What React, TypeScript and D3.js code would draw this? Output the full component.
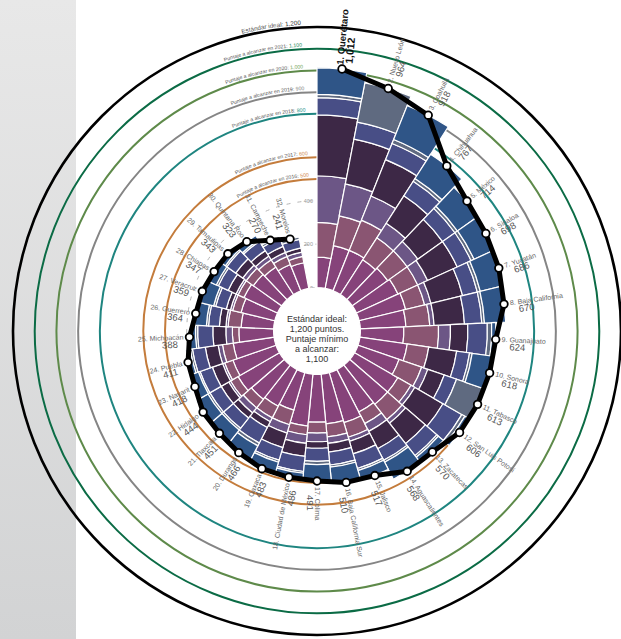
import * as d3 from "d3";
import { useEffect, useRef } from "react";

// states in ranking order
const states = [
  "Querétaro", "Nuevo León", "Coahuila", "Chihuahua", "México", "Sinaloa", "Yucatán",
  "Baja California", "Guanajuato", "Sonora", "Tabasco", "San Luis Potosí", "Zacatecas",
  "Aguascalientes", "Jalisco", "Baja California Sur", "Colima", "Ciudad de México",
  "Oaxaca", "Durango", "Tlaxcala", "Hidalgo", "Nayarit", "Puebla", "Michoacán",
  "Guerrero", "Veracruz", "Chiapas", "Tamaulipas", "Quintana Roo", "Campeche", "Morelos",
];
const totals = [
  1012, 964, 918, 767, 714, 698, 686, 670, 624, 618, 613, 606, 570, 568, 517, 510,
  491, 486, 483, 466, 451, 444, 418, 411, 388, 364, 359, 347, 343, 323, 270, 241,
];

// stacked components (inner -> outer)
const compA = [140, 200, 200, 190, 200, 210, 220, 210, 200, 220, 200, 230, 230, 220, 240, 230, 220, 240, 180, 190, 200, 220, 210, 190, 160, 150, 160, 170, 160, 150, 130, 120];
const compB = [160, 140, 150, 120, 110, 100, 90, 110, 160, 100, 110, 70, 90, 60, 70, 60, 50, 40, 70, 60, 50, 40, 40, 50, 30, 60, 40, 30, 40, 40, 40, 30];
const compC = [215, 150, 120, 80, 60, 50, 30, 20, 55, 0, 30, 20, 20, 40, 20, 30, 40, 40, 40, 20, 30, 10, 10, 20, 30, 10, 10, 10, 20, 20, 20, 20];
const compD = [280, 210, 180, 150, 140, 150, 150, 140, 80, 130, 80, 150, 120, 90, 60, 40, 30, 60, 70, 30, 30, 40, 50, 60, 60, 30, 20, 40, 40, 30, 30, 20];
const compE = [80, 80, 80, 80, 70, 70, 70, 80, 90, 60, 60, 100, 70, 60, 70, 60, 60, 70, 60, 80, 60, 60, 60, 60, 70, 50, 50, 50, 50, 50, 40, 40];
const compF = [15, 184, 20, 15, 14, 15, 14, 12, 20, 12, 133, 16, 10, 10, 10, 10, 15, 8, 10, 15, 10, 10, 8, 10, 10, 10, 10, 10, 8, 8, 10, 11];
const compG = [122, 0, 168, 132, 120, 103, 112, 98, 19, 96, 0, 20, 30, 88, 47, 80, 76, 28, 53, 71, 71, 64, 40, 21, 28, 54, 69, 37, 25, 25, 0, 0];

const compKeys = ["A", "B", "C", "D", "E", "F", "G"];
const compColors = ["#86437a", "#8a5572", "#6c5686", "#3d2846", "#484e86", "#5f6a80", "#2f5587"];

const rings = [
  { v: 1200, label: "Estándar ideal: ", val: "1,200", color: "#000", valColor: "#333", w: 2.6, fs: 6.3 },
  { v: 1100, label: "Puntaje a alcanzar en 2021: ", val: "1,100", color: "#0b6b45", valColor: "#1d8a5a", w: 2, fs: 5.2 },
  { v: 1000, label: "Puntaje a alcanzar en 2020: ", val: "1,000", color: "#5e8a4a", valColor: "#78a660", w: 2, fs: 5.2 },
  { v: 900, label: "Puntaje a alcanzar en 2019: ", val: "900", color: "#858585", valColor: "#888", w: 2, fs: 5.2 },
  { v: 800, label: "Puntaje a alcanzar en 2018: ", val: "800", color: "#1f8580", valColor: "#2a938d", w: 2, fs: 5.2 },
  { v: 600, label: "Puntaje a alcanzar en 2017: ", val: "600", color: "#c47c3c", valColor: "#d08a4c", w: 2, fs: 5.2 },
  { v: 500, label: "Puntaje a alcanzar en 2016: ", val: "500", color: "#c47c3c", valColor: "#d08a4c", w: 2, fs: 5.2 },
];
const gridTicks = [-100, 0, 200, 400];
const centerLines = ["Estándar ideal:", "1,200 puntos.", "Puntaje mínimo", "a alcanzar:", "1,100"];

export default function App() {
  const ref = useRef<SVGSVGElement>(null);

  useEffect(() => {
    const W = 621, H = 639;
    const cx = 317, cy = 331;
    const svg = d3.select(ref.current);
    svg.selectAll("*").remove();

    const r = d3.scaleLinear().domain([-200, 1200]).range([0, 304]);
    const band = (Math.PI * 2) / 33;
    const mid = (i: number) => i * band + band / 2;

    const defs = svg.append("defs");
    const grad = defs.append("linearGradient").attr("id", "panel").attr("x1", 0).attr("x2", 0).attr("y1", 0).attr("y2", 1);
    grad.append("stop").attr("offset", "0%").attr("stop-color", "#e8e8e8");
    grad.append("stop").attr("offset", "100%").attr("stop-color", "#d2d3d4");

    svg.append("rect").attr("width", W).attr("height", H).attr("fill", "#fff");
    svg.append("rect").attr("width", 76).attr("height", H).attr("fill", "url(#panel)");

    const g = svg.append("g").attr("transform", `translate(${cx},${cy})`);

    // grid (dashed)
    g.selectAll("circle.grid")
      .data(gridTicks)
      .join("circle")
      .attr("r", (d) => r(d))
      .attr("fill", "none")
      .attr("stroke", "#b5b5b5")
      .attr("stroke-width", 1)
      .attr("stroke-dasharray", "4,7");
    g.selectAll("text.grid")
      .data(gridTicks)
      .join("text")
      .attr("x", -4)
      .attr("y", (d) => -r(d) + 2)
      .attr("text-anchor", "end")
      .attr("font-size", 5.5)
      .attr("fill", "#999")
      .attr("font-family", "Liberation Sans, Arial, sans-serif")
      .text((d) => d);

    // target rings
    g.selectAll("circle.ring")
      .data(rings)
      .join("circle")
      .attr("r", (d) => r(d.v))
      .attr("fill", "none")
      .attr("stroke", (d) => d.color)
      .attr("stroke-width", (d) => d.w);

    rings.forEach((d, i) => {
      const R = r(d.v) + 2.5;
      const a1 = (-3 * Math.PI) / 180;
      defs.append("path")
        .attr("id", `ringpath${i}`)
        .attr("d", `M ${cx - R} ${cy} A ${R} ${R} 0 0 1 ${cx + R * Math.sin(a1)} ${cy - R * Math.cos(a1)}`);
      const t = svg.append("text")
        .attr("font-family", "Liberation Sans, Arial, sans-serif")
        .attr("font-size", d.fs)
        .attr("fill", "#555")
        .append("textPath")
        .attr("href", `#ringpath${i}`)
        .attr("startOffset", "100%")
        .attr("text-anchor", "end");
      t.append("tspan").text(d.label);
      t.append("tspan").attr("fill", d.valColor).text(d.val);
    });

    // stacked bars
    const table = states.map((s, i) => ({
      state: s,
      A: compA[i], B: compB[i], C: compC[i], D: compD[i], E: compE[i], F: compF[i], G: compG[i],
    }));
    const series = d3.stack<any>().keys(compKeys)(table);
    const arc = d3.arc<any>();

    g.append("circle").attr("r", r(0)).attr("fill", "#fff");

    g.append("g")
      .selectAll("g")
      .data(series)
      .join("g")
      .attr("fill", (_d, k) => compColors[k])
      .selectAll("path")
      .data((d) => d.map((p, i) => ({ p, i })).filter((o) => o.p[1] > o.p[0]))
      .join("path")
      .attr("d", (o) =>
        arc({
          innerRadius: r(o.p[0]),
          outerRadius: r(o.p[1]),
          startAngle: o.i * band,
          endAngle: (o.i + 1) * band,
        })
      )
      .attr("stroke", "#fff")
      .attr("stroke-width", 1.2);

    // center text
    g.selectAll("text.center")
      .data(centerLines)
      .join("text")
      .attr("y", (_d, i) => -9 + i * 10)
      .attr("text-anchor", "middle")
      .attr("font-size", 9)
      .attr("fill", "#333")
      .attr("font-family", "Liberation Sans, Arial, sans-serif")
      .text((d) => d);

    // ranking line
    const line = d3
      .lineRadial<number>()
      .angle((_d, i) => mid(i))
      .radius((d) => r(d));
    g.append("path")
      .attr("d", line(totals))
      .attr("fill", "none")
      .attr("stroke", "#000")
      .attr("stroke-width", 5)
      .attr("stroke-linejoin", "round");
    g.selectAll("circle.dot")
      .data(totals)
      .join("circle")
      .attr("cx", (d, i) => r(d) * Math.sin(mid(i)))
      .attr("cy", (d, i) => -r(d) * Math.cos(mid(i)))
      .attr("r", 3.8)
      .attr("fill", "#fff")
      .attr("stroke", "#000")
      .attr("stroke-width", 1.8);

    // state labels
    const fmt = d3.format(",");
    const lab = g
      .selectAll("g.lab")
      .data(totals)
      .join("g")
      .attr("transform", (d, i) => {
        const deg = (mid(i) * 180) / Math.PI;
        const base = `rotate(${deg - 90}) translate(${r(d) + (i === 0 ? 4 : 6)},0)`;
        return deg > 180 ? base + " rotate(180)" : base;
      });
    lab.each(function (d, i) {
      const left = (mid(i) * 180) / Math.PI > 180;
      const first = i === 0;
      const sel = d3.select(this);
      sel.append("text")
        .attr("text-anchor", left ? "end" : "start")
        .attr("dy", first ? "0.1em" : "0.3em")
        .attr("font-size", first ? 9.5 : 7)
        .attr("font-weight", first ? "bold" : "normal")
        .attr("fill", first ? "#111" : "#666")
        .attr("font-family", "Liberation Sans, Arial, sans-serif")
        .text(`${i + 1}. ${states[i]}`);
      sel.append("text")
        .attr("text-anchor", left ? "end" : "start")
        .attr("x", left ? -6 : first ? 2 : 8)
        .attr("y", first ? 10 : 10)
        .attr("font-size", first ? 10.5 : 9.5)
        .attr("font-weight", first ? "bold" : "normal")
        .attr("fill", first ? "#111" : "#555")
        .attr("font-family", "Liberation Sans, Arial, sans-serif")
        .text(fmt(d));
    });
  }, []);

  return (
    <svg
      ref={ref}
      width={621}
      height={639}
      style={{ position: "absolute", left: 0, top: 0, display: "block" }}
    />
  );
}
